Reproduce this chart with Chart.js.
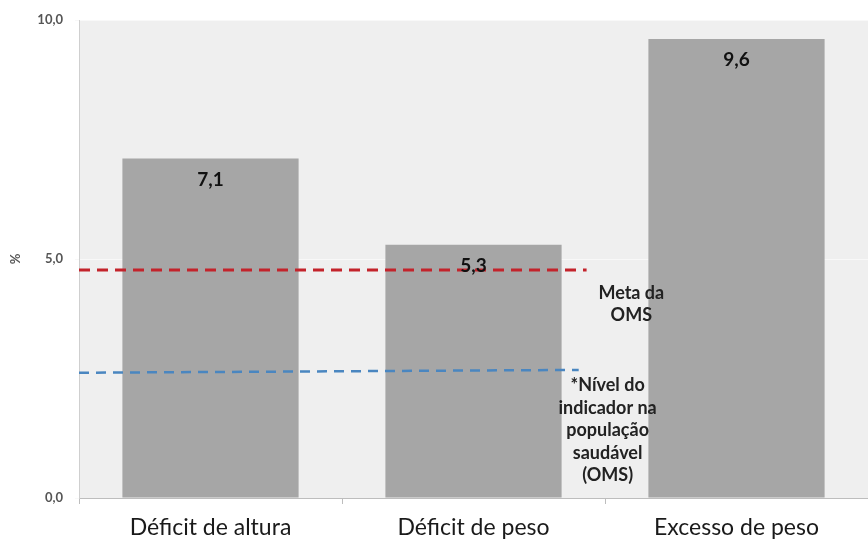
<!DOCTYPE html>
<html>
<head>
<meta charset="utf-8">
<script src="https://cdn.jsdelivr.net/npm/chart.js@4.4.1/dist/chart.umd.min.js"></script>
<style>
  html, body { margin: 0; padding: 0; background: #fff; }
  #wrap { width: 868px; height: 541px; position: relative; overflow: hidden; }
</style>
</head>
<body>
<div id="wrap"><canvas id="chart"></canvas></div>
<script>
// dados
const categorias = ['Déficit de altura', 'Déficit de peso', 'Excesso de peso'];
const valores = [7.1, 5.3, 9.6];

// linhas de referência (posição x na escala auxiliar 0..3)
const metaOMS = [{ x: 0, y: 4.77 }, { x: 1.93, y: 4.77 }];
const nivelSaudavel = [{ x: 0, y: 2.62 }, { x: 1.90, y: 2.68 }];

const notaMeta = ['Meta da', 'OMS'];
const notaNivel = ['*Nível do', 'indicador na', 'população', 'saudável', '(OMS)'];

const FONT = 'Lato, "Open Sans", sans-serif';

function fmt(v) {
  return v.toFixed(1).replace('.', ',');
}

const fundoPlot = {
  id: 'fundoPlot',
  beforeDraw(chart) {
    const { ctx, chartArea: a } = chart;
    ctx.save();
    ctx.fillStyle = '#efefef';
    ctx.fillRect(a.left, a.top, a.right - a.left, a.bottom - a.top);
    ctx.restore();
  }
};

const rotulos = {
  id: 'rotulos',
  afterDatasetsDraw(chart) {
    const ctx = chart.ctx;
    const meta = chart.getDatasetMeta(0);
    ctx.save();
    ctx.fillStyle = '#111';
    ctx.font = 'bold 19px ' + FONT;
    ctx.textAlign = 'center';
    ctx.textBaseline = 'middle';
    meta.data.forEach((bar, i) => {
      ctx.fillText(fmt(valores[i]), bar.x, bar.y + 21);
    });

    // notas ao lado das linhas
    const sx = chart.scales.x2, sy = chart.scales.y;
    ctx.font = 'bold 18px ' + FONT;
    ctx.fillStyle = '#222';
    notaMeta.forEach((t, i) => {
      ctx.fillText(t, sx.getPixelForValue(2.1), sy.getPixelForValue(4.29) + i * 22);
    });
    notaNivel.forEach((t, i) => {
      ctx.fillText(t, sx.getPixelForValue(2.01), sy.getPixelForValue(2.36) + i * 22.5);
    });
    ctx.restore();
  }
};

new Chart(document.getElementById('chart').getContext('2d'), {
  type: 'bar',
  data: {
    labels: categorias,
    datasets: [
      {
        type: 'bar',
        data: valores,
        backgroundColor: '#a6a6a6',
        barPercentage: 0.67,
        categoryPercentage: 1,
        grouped: false,
        xAxisID: 'x',
        order: 2
      },
      {
        type: 'line',
        data: metaOMS,
        xAxisID: 'x2',
        borderColor: '#c3232b',
        borderWidth: 3,
        borderDash: [11, 7],
        pointRadius: 0,
        fill: false,
        order: 1
      },
      {
        type: 'line',
        data: nivelSaudavel,
        xAxisID: 'x2',
        borderColor: '#4a86c0',
        borderWidth: 2.5,
        borderDash: [10, 7],
        pointRadius: 0,
        fill: false,
        order: 1
      }
    ]
  },
  options: {
    responsive: true,
    maintainAspectRatio: false,
    animation: false,
    layout: { padding: { top: 20, right: -4, left: 0, bottom: 0 } },
    plugins: {
      legend: { display: false },
      tooltip: { enabled: false }
    },
    scales: {
      x: {
        type: 'category',
        offset: true,
        border: { color: '#bdbdbd', width: 1 },
        grid: { display: true, offset: true, drawOnChartArea: false, tickLength: 6, color: '#bdbdbd' },
        ticks: { color: '#1a1a1a', font: { family: FONT, size: 23 }, padding: 10 },
        afterFit(s) { s.height = 43; }
      },
      x2: {
        type: 'linear',
        display: false,
        offset: false,
        min: 0,
        max: 3
      },
      y: {
        min: 0,
        max: 10,
        border: { color: '#cfcfcf', width: 1 },
        grid: { color: '#f8f8f8', drawTicks: true, tickLength: 4 },
        ticks: {
          stepSize: 5,
          color: '#555',
          font: { family: FONT, size: 13, weight: 'bold' },
          padding: 12,
          callback: v => fmt(v)
        },
        title: {
          display: true,
          text: '%',
          color: '#555',
          font: { family: FONT, size: 13, weight: 'bold' },
          padding: { top: 8, bottom: 0 }
        },
        afterFit(s) { s.width = 79; }
      }
    }
  },
  plugins: [fundoPlot, rotulos]
});
</script>
</body>
</html>
